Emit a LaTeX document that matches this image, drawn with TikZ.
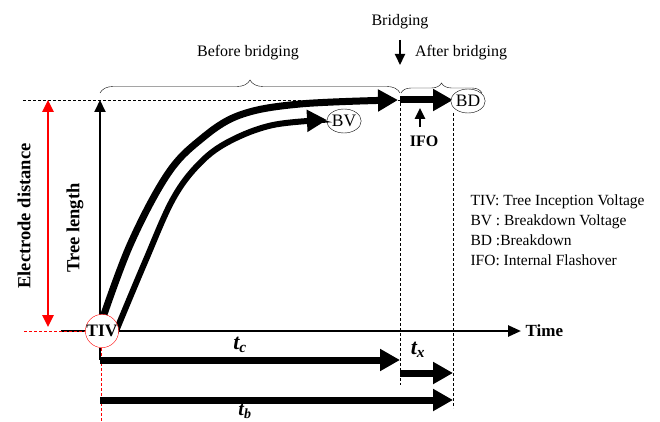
\documentclass[tikz,border=0pt]{standalone}
\usepackage{fontspec}
\setmainfont{Liberation Serif}
\usetikzlibrary{arrows.meta,decorations.pathreplacing,shapes.geometric}
\begin{document}
\begin{tikzpicture}[x=1pt,y=-1pt,
  fat/.style={line width=7pt,-{Triangle[length=20pt,width=21pt]}},
  thin/.style={line width=2pt,-{Triangle[length=11pt,width=10pt]}},
  guide/.style={dash pattern=on 3pt off 2pt,line width=0.8pt},
  lbl/.style={font=\fontsize{16}{19}\selectfont},
  bold/.style={font=\bfseries\fontsize{18.5}{20}\selectfont},
  legend/.style={anchor=base west,font=\fontsize{15.5}{18}\selectfont},
  tlbl/.style={font=\bfseries\itshape\fontsize{22}{24}\selectfont}]
\useasboundingbox (0,0) rectangle (660,422);
\path (102,331) coordinate (origin) (400,100) coordinate (bridge) (453,100) coordinate (bdtip);
% guide lines
\draw [guide] (23,100) -- (bridge) -- (400,385);
\draw [guide] (453,113) -- (453,408);
\draw [decorate,decoration={brace,amplitude=13pt}] (100,93) -- (400,93);
\draw [decorate,decoration={brace,amplitude=10pt}] (401,93) -- (482,93);
\node[lbl] (before) at (248,53) {Before bridging};
\node[lbl] (after) at (461,53) {After bridging};
\node[lbl] (bridging) at (400,22) {Bridging};
\draw [thin] (400,40) -- (400,65);
% growth curves
\draw [fat] plot[smooth,tension=0.6] coordinates {(100,326) (130,245) (167,175) (200,140) (240,115) (300,104) (398,100)};
\draw [fat,line width=6pt] plot[smooth,tension=0.6] coordinates {(114,336) (145,262) (173,199) (200,163) (230,141) (273,125) (327,120)};
\draw [fat] (bridge) -- (bdtip);
\node[ellipse,draw,minimum width=32pt,minimum height=24pt,inner sep=0pt,font=\fontsize{17.5}{19}\selectfont] (bv) at (344,121) {BV};
\node[ellipse,draw,minimum width=31pt,minimum height=24pt,inner sep=0pt,fill=white,font=\fontsize{17.5}{19}\selectfont] (bd) at (468,101) {BD};
\node[font=\bfseries\fontsize{16}{18}\selectfont] (ifo) at (424,141) {IFO};
\draw [thin,line width=2.5pt] (420,127) -- (420,108);
% axes
\draw [line width=2pt,-{Triangle[length=12pt,width=11pt]}] (100,331) -- (100,100);
\draw [red,line width=2.5pt,{Triangle[length=12pt,width=11pt]}-{Triangle[length=12pt,width=11pt]}] (48,100) -- (48,327);
\draw [line width=2.5pt,-{Triangle[length=13pt,width=11pt]}] (61,331) -- (521,331) node[right,font=\bfseries\fontsize{17}{18}\selectfont] (time) {Time};
\draw [red,guide] (24,331) -- (86,331);
\draw [red,guide] (101,348) -- (101,422);
\node[circle,draw=red,fill=white,minimum size=33pt,inner sep=0pt,font=\bfseries\fontsize{17.5}{17}\selectfont] (tiv) at (origin) {TIV};
\node[rotate=90,bold] (electrode) at (24,216) {Electrode distance};
\node[rotate=90,bold] (tree) at (75,228) {Tree length};
% time intervals
\draw [line width=2.5pt] (tiv.south -| 100,0) -- (100,360);
\draw [fat] (100,360) -- (400,360);
\draw [fat] (400,373) -- (453,373);
\draw [fat] (100,400) -- (453,400);
\node[tlbl] (tc) at (240,345) {t\textsubscript{c}};
\node[tlbl] (tx) at (418,350) {t\textsubscript{x}};
\node[tlbl,font=\bfseries\itshape\fontsize{20}{22}\selectfont,anchor=south,inner sep=2pt] (tb) at (245,421) {t\textsubscript{b}};
% legend
\node[legend] (l1) at (467,205) {TIV: Tree Inception Voltage};
\node[legend] (l2) at (467,225) {BV : Breakdown Voltage};
\node[legend] (l3) at (467,245) {BD :Breakdown};
\node[legend] (l4) at (467,265) {IFO: Internal Flashover};
\end{tikzpicture}
\end{document}
